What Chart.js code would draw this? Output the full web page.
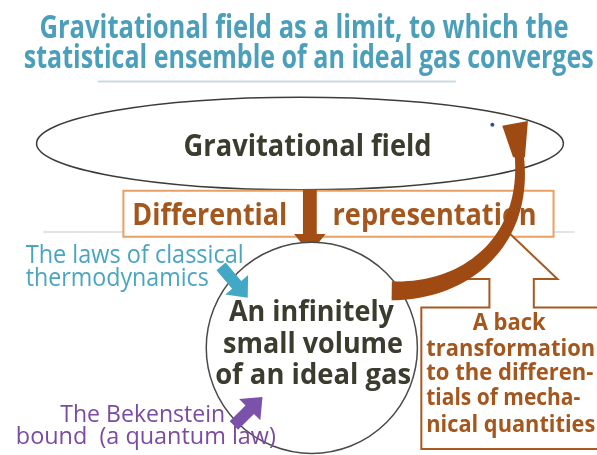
<!DOCTYPE html>
<html>
<head>
<meta charset="utf-8">
<script src="https://cdn.jsdelivr.net/npm/chart.js@4.4.1/dist/chart.umd.min.js"></script>
<style>
  body { margin: 0; background: #fff; }
  #wrap { width: 597px; height: 455px; }
</style>
</head>
<body>
<div id="wrap"><canvas id="diagram"></canvas></div>
<script>
// texts of the diagram ........................................................
const titleLines = ['Gravitational field as a limit, to which the', 'statistical ensemble of an ideal gas converges'];
const fieldLabel = ['Gravitational field'];
const reprWords = ['Differential', 'representation'];
const volumeLines = ['An infinitely', 'small volume', 'of an ideal gas'];
const classicalLines = ['The laws of classical', 'thermodynamics'];
const bekensteinLines = ['The Bekenstein', 'bound  (a quantum law)'];
const backLines = ['A back', 'transformation', 'to the differen-', 'tials of mecha-', 'nical quantities'];
const dotPoints = [{ x: 495, y: 123 }];

// text placement: [left, baseline, width]
const titlePos = [[36, 35, 529], [20, 65, 570]];
const fieldPos = [[182, 155, 248]];
const reprPos = [[130, 225, 155], [333, 225, 204]];
const volumePos = [[228, 323, 165], [222, 355, 180], [214, 387, 196]];
const classicalPos = [[22, 264, 218], [22, 287, 183]];
const bekensteinPos = [[57, 425, 165], [12, 448, 260]];
const backPos = [[475, 332, 73], [428, 358, 169], [428, 383, 167], [428, 408, 154], [428, 436, 169]];

const SANS = '"Open Sans", sans-serif';

function fitText(ctx, text, x, y, w, font, color) {
  ctx.save();
  ctx.font = font;
  ctx.fillStyle = color;
  ctx.textBaseline = 'alphabetic';
  ctx.textAlign = 'left';
  let natural = ctx.measureText(text).width;
  ctx.translate(x, y);
  ctx.scale(w / natural, 1);
  ctx.fillText(text, 0, 0);
  ctx.restore();
}

function blockArrow(ctx, t, p, shaftW, headW, headLen, color) {
  let dx = p[0] - t[0], dy = p[1] - t[1];
  let len = Math.sqrt(dx * dx + dy * dy);
  let ux = dx / len, uy = dy / len, nx = -uy, ny = ux;
  let bx = p[0] - ux * headLen, by = p[1] - uy * headLen;
  ctx.save();
  ctx.fillStyle = color;
  ctx.beginPath();
  ctx.moveTo(t[0] + nx * shaftW / 2, t[1] + ny * shaftW / 2);
  ctx.lineTo(bx + nx * shaftW / 2, by + ny * shaftW / 2);
  ctx.lineTo(bx + nx * headW / 2, by + ny * headW / 2);
  ctx.lineTo(p[0], p[1]);
  ctx.lineTo(bx - nx * headW / 2, by - ny * headW / 2);
  ctx.lineTo(bx - nx * shaftW / 2, by - ny * shaftW / 2);
  ctx.lineTo(t[0] - nx * shaftW / 2, t[1] - ny * shaftW / 2);
  ctx.closePath();
  ctx.fill();
  ctx.restore();
}

const diagramPlugin = {
  id: 'diagram',
  beforeDatasetsDraw(chart) {
    const ctx = chart.ctx;
    const xs = chart.scales.x, ys = chart.scales.y;
    const X = v => xs.getPixelForValue(v);
    const Y = v => ys.getPixelForValue(v);
    const P = (a, b) => [X(a), Y(b)];

    // title
    titleLines.forEach((s, i) => fitText(ctx, s, X(titlePos[i][0]), Y(titlePos[i][1]), titlePos[i][2], 'bold 32px ' + SANS, '#4b9fbb'));

    ctx.save();
    ctx.strokeStyle = '#cbdadf';
    ctx.lineWidth = 2;
    ctx.beginPath();
    ctx.moveTo(X(95), Y(79)); ctx.lineTo(X(458), Y(79));
    ctx.stroke();
    ctx.strokeStyle = '#d6dadd';
    ctx.lineWidth = 1.5;
    ctx.beginPath();
    ctx.moveTo(X(40), Y(232)); ctx.lineTo(X(578), Y(232));
    ctx.stroke();

    // gravitational field ellipse
    ctx.beginPath();
    ctx.ellipse(X(300), Y(142), X(567) - X(300), Y(189) - Y(142), 0, 0, Math.PI * 2);
    ctx.fillStyle = '#fff';
    ctx.fill();
    ctx.strokeStyle = '#3d3d38';
    ctx.lineWidth = 1.5;
    ctx.stroke();

    // differential representation box
    ctx.beginPath();
    ctx.rect(X(121), Y(190), X(557) - X(121), Y(237) - Y(190));
    ctx.fillStyle = '#fff';
    ctx.fill();
    ctx.strokeStyle = '#e8a064';
    ctx.lineWidth = 2;
    ctx.stroke();

    // down arrow
    ctx.fillStyle = '#a24e14';
    ctx.beginPath();
    ctx.moveTo(X(303), Y(189)); ctx.lineTo(X(317), Y(189));
    ctx.lineTo(X(317), Y(234)); ctx.lineTo(X(326), Y(234));
    ctx.lineTo(X(310), Y(254)); ctx.lineTo(X(294), Y(234));
    ctx.lineTo(X(303), Y(234)); ctx.closePath();
    ctx.fill();

    // small volume circle
    ctx.beginPath();
    ctx.arc(X(312), Y(350), X(419) - X(312), 0, Math.PI * 2);
    ctx.fillStyle = '#fff';
    ctx.fill();
    ctx.strokeStyle = '#4a4a46';
    ctx.lineWidth = 1.5;
    ctx.stroke();

    // callout with up arrow
    ctx.beginPath();
    ctx.moveTo(X(512), Y(233));
    ctx.lineTo(X(561), Y(280)); ctx.lineTo(X(537), Y(280));
    ctx.lineTo(X(537), Y(309)); ctx.lineTo(X(610), Y(309));
    ctx.lineTo(X(610), Y(453)); ctx.lineTo(X(423), Y(453));
    ctx.lineTo(X(423), Y(309)); ctx.lineTo(X(492), Y(309));
    ctx.lineTo(X(492), Y(280)); ctx.lineTo(X(463), Y(280));
    ctx.closePath();
    ctx.fillStyle = '#fff';
    ctx.fill();
    ctx.strokeStyle = '#a65a22';
    ctx.lineWidth = 2;
    ctx.stroke();
    ctx.restore();

    // texts
    fieldLabel.forEach((s, i) => fitText(ctx, s, X(fieldPos[i][0]), Y(fieldPos[i][1]), fieldPos[i][2], 'bold 30px ' + SANS, '#3b3c2e'));
    reprWords.forEach((s, i) => fitText(ctx, s, X(reprPos[i][0]), Y(reprPos[i][1]), reprPos[i][2], 'bold 30px ' + SANS, '#a4561d'));
    volumeLines.forEach((s, i) => fitText(ctx, s, X(volumePos[i][0]), Y(volumePos[i][1]), volumePos[i][2], 'bold 29px ' + SANS, '#3b3c2e'));
    classicalLines.forEach((s, i) => fitText(ctx, s, X(classicalPos[i][0]), Y(classicalPos[i][1]), classicalPos[i][2], '25px ' + SANS, '#4aa6c0'));
    bekensteinLines.forEach((s, i) => fitText(ctx, s, X(bekensteinPos[i][0]), Y(bekensteinPos[i][1]), bekensteinPos[i][2], '24px ' + SANS, '#7a4ba2'));
    backLines.forEach((s, i) => fitText(ctx, s, X(backPos[i][0]), Y(backPos[i][1]), backPos[i][2], 'bold 24px ' + SANS, '#a4561d'));

    // side arrows
    blockArrow(ctx, P(220, 267), P(247, 299), 12, 30, 17, '#43a7c6');
    blockArrow(ctx, P(233, 429), P(262, 400), 12, 30, 18, '#7b52aa');

    // curved back arrow (tapering band along a cubic)
    const c = [P(393, 292), P(470, 293), P(532, 240), P(522, 152)];
    const left = [], right = [];
    const n = 40;
    for (let i = 0; i <= n; i++) {
      let t = i / n, m = 1 - t;
      let x = m*m*m*c[0][0] + 3*m*m*t*c[1][0] + 3*m*t*t*c[2][0] + t*t*t*c[3][0];
      let y = m*m*m*c[0][1] + 3*m*m*t*c[1][1] + 3*m*t*t*c[2][1] + t*t*t*c[3][1];
      let tx = 3*m*m*(c[1][0]-c[0][0]) + 6*m*t*(c[2][0]-c[1][0]) + 3*t*t*(c[3][0]-c[2][0]);
      let ty = 3*m*m*(c[1][1]-c[0][1]) + 6*m*t*(c[2][1]-c[1][1]) + 3*t*t*(c[3][1]-c[2][1]);
      let l = Math.sqrt(tx*tx + ty*ty);
      let w = (19 - 10 * t) / 2;
      left.push([x - ty / l * w, y + tx / l * w]);
      right.push([x + ty / l * w, y - tx / l * w]);
    }
    ctx.save();
    ctx.fillStyle = '#9e4a12';
    ctx.beginPath();
    ctx.moveTo(left[0][0], left[0][1]);
    left.forEach(q => ctx.lineTo(q[0], q[1]));
    for (let i = right.length - 1; i >= 0; i--) ctx.lineTo(right[i][0], right[i][1]);
    ctx.closePath();
    ctx.fill();
    // arrow head
    ctx.beginPath();
    ctx.moveTo(X(505), Y(124));
    ctx.lineTo(X(531), Y(119));
    ctx.lineTo(X(528), Y(156));
    ctx.lineTo(X(516), Y(156));
    ctx.closePath();
    ctx.fill();
    ctx.restore();
  }
};

new Chart(document.getElementById('diagram'), {
  type: 'bubble',
  data: {
    datasets: [{
      label: 'dot',
      data: dotPoints.map(d => ({ x: d.x, y: d.y, r: 2 })),
      backgroundColor: '#2f4f9c',
      borderWidth: 0
    }]
  },
  options: {
    responsive: true,
    maintainAspectRatio: false,
    animation: false,
    layout: { padding: 0 },
    plugins: { legend: { display: false }, tooltip: { enabled: false } },
    scales: {
      x: { type: 'linear', min: 0, max: 597, display: false },
      y: { type: 'linear', min: 0, max: 455, reverse: true, display: false }
    }
  },
  plugins: [diagramPlugin]
});
</script>
</body>
</html>
